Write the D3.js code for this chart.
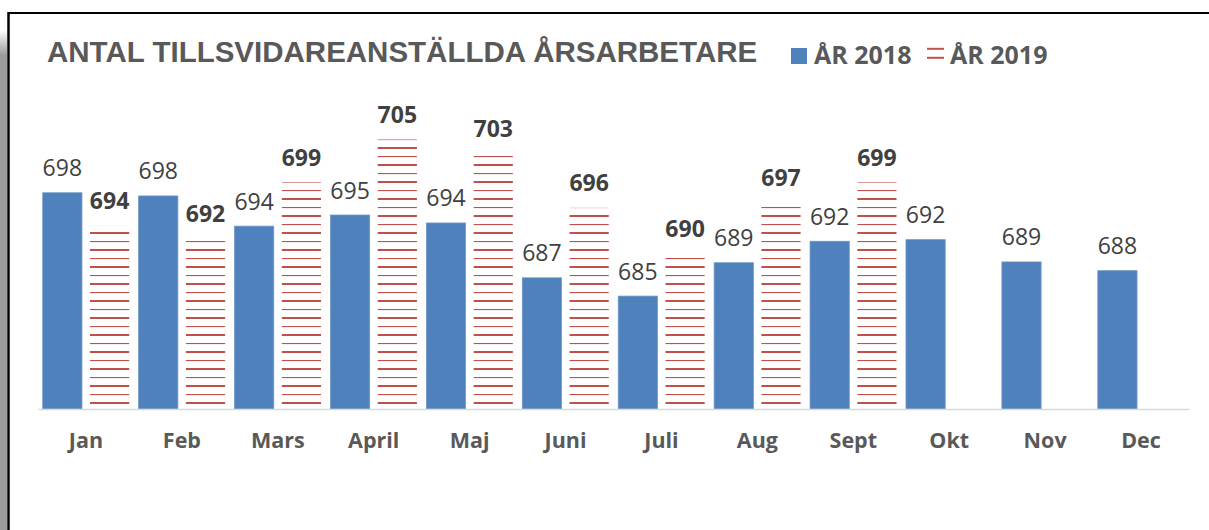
<!DOCTYPE html>
<html lang="sv">
<head>
  <meta charset="UTF-8" />
  <title>Antal tillsvidareanställda årsarbetare</title>
  <style>
    body { margin: 0; background: #fff; }
    svg { display: block; }
  </style>
</head>
<body>
  <svg width="1209" height="530"></svg>

  <script src="https://d3js.org/d3.v7.min.js"></script>
  <script>
    // Months and the two series (2019 only runs to September)
    const months = ['Jan','Feb','Mars','April','Maj','Juni','Juli','Aug','Sept','Okt','Nov','Dec'];
    const values2018 = [698.1, 697.7, 693.9, 695.3, 694.3, 687.4, 685.1, 689.3, 692.0, 692.2, 689.4, 688.3];
    const values2019 = [694.0, 692.4, 699.4, 704.8, 703.0, 696.2, 690.4, 696.9, 699.4];
    const seriesNames = ['ÅR 2018', 'ÅR 2019'];
    const title = 'ANTAL TILLSVIDAREANSTÄLLDA ÅRSARBETARE';

    const svg = d3.select('svg');
    const blue = '#4f81bd';
    const red = '#c0504d';

    // Frame: grey shadow strip, black left and top border
    const defs = svg.append('defs');
    const shade = defs.append('linearGradient')
      .attr('id', 'shade').attr('x1', 0).attr('y1', 0).attr('x2', 0).attr('y2', 1);
    shade.append('stop').attr('offset', 0).attr('stop-color', '#fff');
    shade.append('stop').attr('offset', 0.05).attr('stop-color', '#9c9c9c');
    shade.append('stop').attr('offset', 1).attr('stop-color', '#9c9c9c');
    svg.append('rect').attr('x', 0).attr('y', 30).attr('width', 7).attr('height', 500)
      .attr('fill', 'url(#shade)');
    svg.append('line').attr('x1', 8.5).attr('x2', 8.5).attr('y1', 12).attr('y2', 530)
      .attr('stroke', '#000').attr('stroke-width', 2.5);
    svg.append('line').attr('x1', 8).attr('x2', 1209).attr('y1', 13).attr('y2', 13)
      .attr('stroke', '#000').attr('stroke-width', 1.8);

    // Horizontal stripe fill for 2019
    const stripes = defs.append('pattern')
      .attr('id', 'stripes')
      .attr('patternUnits', 'userSpaceOnUse')
      .attr('width', 20).attr('height', 17);
    stripes.append('rect').attr('width', 20).attr('height', 17).attr('fill', '#fff');
    stripes.append('rect').attr('y', 3).attr('width', 20).attr('height', 1.1).attr('fill', red);
    stripes.append('rect').attr('y', 11).attr('width', 20).attr('height', 2).attr('fill', red);

    // Scales
    const x0 = d3.scaleBand().domain(months).range([38, 1189]).padding(0);
    const x1 = d3.scaleBand().domain(seriesNames).range([0, x0.bandwidth()])
      .paddingInner(0.17).paddingOuter(0.1);
    const y = d3.scaleLinear().domain([670.9, 700]).range([409, 409 - 29.1 * 7.95]);

    const fmt = v => String(Math.round(v));

    // Title
    svg.append('text')
      .attr('x', 47).attr('y', 62)
      .attr('font-family', 'Liberation Sans, Arial, sans-serif')
      .attr('font-weight', 'bold').attr('font-size', 29.5)
      .attr('fill', '#595959')
      .text(title);

    // Legend
    const lg = svg.append('g').attr('font-family', 'Open Sans, sans-serif')
      .attr('font-weight', 'bold').attr('font-size', 25).attr('fill', '#595959');
    lg.append('rect').attr('x', 791).attr('y', 48).attr('width', 16).attr('height', 16).attr('fill', blue);
    lg.append('text').attr('x', 814).attr('y', 64).text(seriesNames[0]);
    lg.append('rect').attr('x', 927).attr('y', 47.8).attr('width', 17).attr('height', 2).attr('fill', red);
    lg.append('rect').attr('x', 927).attr('y', 56.8).attr('width', 17).attr('height', 2).attr('fill', red);
    lg.append('text').attr('x', 950).attr('y', 64).text(seriesNames[1]);

    const plot = svg.append('g');

    // 2018 bars
    plot.selectAll('rect.s2018')
      .data(values2018)
      .join('rect')
      .attr('class', 's2018')
      .attr('x', (d, i) => x0(months[i]) + x1(seriesNames[0]))
      .attr('width', x1.bandwidth())
      .attr('y', d => y(d))
      .attr('height', d => y.range()[0] - y(d))
      .attr('fill', blue)
      .attr('stroke', '#6f97ca').attr('stroke-width', 0.8);

    // 2019 bars
    plot.selectAll('rect.s2019')
      .data(values2019)
      .join('rect')
      .attr('class', 's2019')
      .attr('x', (d, i) => x0(months[i]) + x1(seriesNames[1]))
      .attr('width', x1.bandwidth())
      .attr('y', d => y(d))
      .attr('height', d => y.range()[0] - y(d))
      .attr('fill', 'url(#stripes)');

    // Axis baseline
    const xAxis = plot.append('g')
      .attr('transform', 'translate(0,409)')
      .call(d3.axisBottom(x0).tickSize(0).tickPadding(0));
    xAxis.select('.domain').attr('stroke', '#d9d9d9').attr('stroke-width', 1.6);
    xAxis.selectAll('text')
      .attr('dy', 0).attr('y', 39)
      .attr('font-family', 'Open Sans, sans-serif')
      .attr('font-weight', 'bold').attr('font-size', 21.5)
      .attr('fill', '#595959');

    // Value labels
    plot.selectAll('text.l2018')
      .data(values2018)
      .join('text')
      .attr('class', 'l2018')
      .attr('x', (d, i) => x0(months[i]) + x1(seriesNames[0]) + x1.bandwidth() / 2)
      .attr('y', d => y(d) - 16.5)
      .attr('text-anchor', 'middle')
      .attr('font-family', 'Open Sans, sans-serif')
      .attr('font-size', 23)
      .attr('fill', '#404040')
      .text(fmt);

    plot.selectAll('text.l2019')
      .data(values2019)
      .join('text')
      .attr('class', 'l2019')
      .attr('x', (d, i) => x0(months[i]) + x1(seriesNames[1]) + x1.bandwidth() / 2)
      .attr('y', d => y(d) - 16.5)
      .attr('text-anchor', 'middle')
      .attr('font-family', 'Open Sans, sans-serif')
      .attr('font-weight', 'bold').attr('font-size', 23)
      .attr('fill', '#404040')
      .text(fmt);
  </script>
</body>
</html>
